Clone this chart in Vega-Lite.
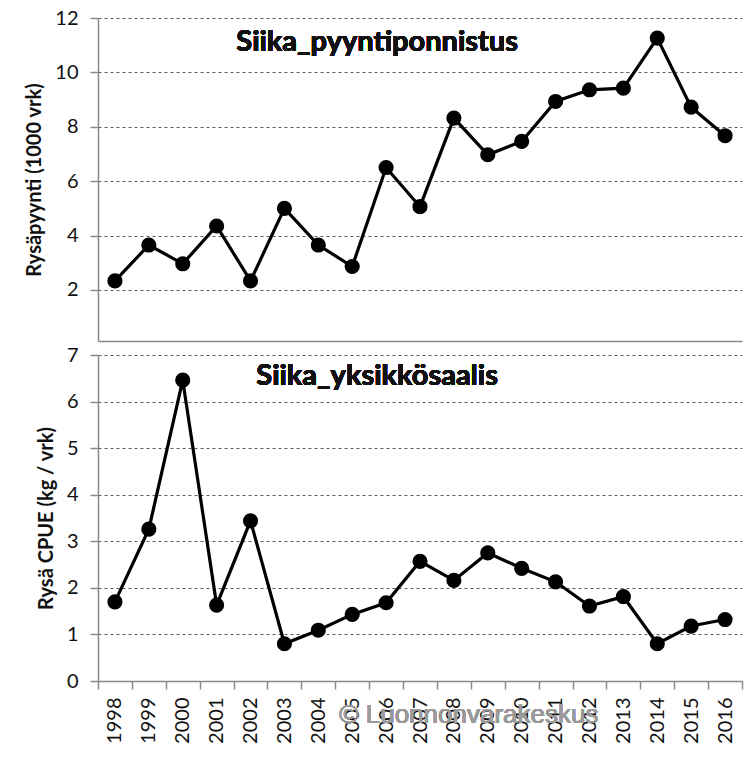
{
  "$schema": "https://vega.github.io/schema/vega-lite/v6.json",
  "background": "white",
  "padding": {"left": 24, "top": 8, "right": 5, "bottom": 5},
  "spacing": 14,
  "bounds": "flush",
  "config": {
    "view": {"stroke": null},
    "axis": {
      "labelFont": "Lato", "labelFontSize": 20, "labelColor": "#111",
      "titleFont": "Lato", "titleFontSize": 20, "titleFontWeight": "bold", "titleColor": "#111",
      "domainColor": "#888", "domainWidth": 1.5,
      "tickColor": "#888", "tickSize": 8, "tickWidth": 1.5,
      "gridColor": "#333", "gridDash": [3, 3], "gridWidth": 0.8
    }
  },
  "vconcat": [
    {
      "width": 644, "height": 323,
      "data": {"values": [
        {"year": 1998, "value": 2.33}, {"year": 1999, "value": 3.65}, {"year": 2000, "value": 2.96},
        {"year": 2001, "value": 4.35}, {"year": 2002, "value": 2.33}, {"year": 2003, "value": 5.0},
        {"year": 2004, "value": 3.65}, {"year": 2005, "value": 2.86}, {"year": 2006, "value": 6.5},
        {"year": 2007, "value": 5.06}, {"year": 2008, "value": 8.32}, {"year": 2009, "value": 6.97},
        {"year": 2010, "value": 7.46}, {"year": 2011, "value": 8.93}, {"year": 2012, "value": 9.36},
        {"year": 2013, "value": 9.42}, {"year": 2014, "value": 11.26}, {"year": 2015, "value": 8.72},
        {"year": 2016, "value": 7.67}
      ]},
      "layer": [
        {
          "mark": {"type": "line", "color": "black", "strokeWidth": 3.2,
                   "point": {"filled": true, "size": 230, "color": "black", "opacity": 1}},
          "encoding": {
            "x": {"field": "year", "type": "ordinal",
                  "scale": {"type": "band", "paddingInner": 0, "paddingOuter": 0},
                  "axis": {"labels": false, "ticks": false, "title": null, "grid": false}},
            "y": {"field": "value", "type": "quantitative",
                  "scale": {"domain": [0.12, 12], "nice": false, "zero": false},
                  "axis": {"values": [2, 4, 6, 8, 10, 12], "title": "Rysäpyynti (1000 vrk)",
                           "labelPadding": 12, "titlePadding": 10, "grid": true}}
          }
        },
        {
          "mark": {"type": "text", "font": "Lato", "fontWeight": "bold", "fontSize": 29,
                   "dx": -9, "baseline": "middle", "align": "center", "color": "#111"},
          "encoding": {
            "x": {"datum": 2006, "type": "ordinal"},
            "y": {"datum": 11.12, "type": "quantitative"},
            "text": {"value": "Siika_pyyntiponnistus"}
          }
        }
      ]
    },
    {
      "width": 644, "height": 326,
      "data": {"values": [
        {"year": 1998, "value": 1.70}, {"year": 1999, "value": 3.26}, {"year": 2000, "value": 6.46},
        {"year": 2001, "value": 1.63}, {"year": 2002, "value": 3.44}, {"year": 2003, "value": 0.80},
        {"year": 2004, "value": 1.09}, {"year": 2005, "value": 1.43}, {"year": 2006, "value": 1.68},
        {"year": 2007, "value": 2.57}, {"year": 2008, "value": 2.16}, {"year": 2009, "value": 2.75},
        {"year": 2010, "value": 2.42}, {"year": 2011, "value": 2.13}, {"year": 2012, "value": 1.61},
        {"year": 2013, "value": 1.81}, {"year": 2014, "value": 0.80}, {"year": 2015, "value": 1.18},
        {"year": 2016, "value": 1.32}
      ]},
      "layer": [
        {
          "mark": {"type": "line", "color": "black", "strokeWidth": 3.2,
                   "point": {"filled": true, "size": 230, "color": "black", "opacity": 1}},
          "encoding": {
            "x": {"field": "year", "type": "ordinal",
                  "scale": {"type": "band", "paddingInner": 0, "paddingOuter": 0},
                  "axis": {"labelAngle": -90, "tickBand": "extent", "title": null, "grid": false,
                           "labelPadding": 8}},
            "y": {"field": "value", "type": "quantitative",
                  "scale": {"domain": [0, 7], "nice": false},
                  "axis": {"values": [0, 1, 2, 3, 4, 5, 6, 7], "title": "Rysä CPUE (kg / vrk)",
                           "labelPadding": 12, "titlePadding": 10, "grid": true}}
          }
        },
        {
          "mark": {"type": "text", "font": "Lato", "fontWeight": "bold", "fontSize": 29,
                   "dx": -9, "baseline": "middle", "align": "center", "color": "#111"},
          "encoding": {
            "x": {"datum": 2006, "type": "ordinal"},
            "y": {"datum": 6.55, "type": "quantitative"},
            "text": {"value": "Siika_yksikkösaalis"}
          }
        },
        {
          "mark": {"type": "text", "font": "Liberation Sans", "fontSize": 26,
                   "dx": 15, "baseline": "middle", "align": "center", "color": "#9a9a9a", "opacity": 0.7},
          "encoding": {
            "x": {"datum": 2008, "type": "ordinal"},
            "y": {"datum": -0.74, "type": "quantitative"},
            "text": {"value": "© Luonnonvarakeskus"}
          }
        }
      ]
    }
  ]
}
